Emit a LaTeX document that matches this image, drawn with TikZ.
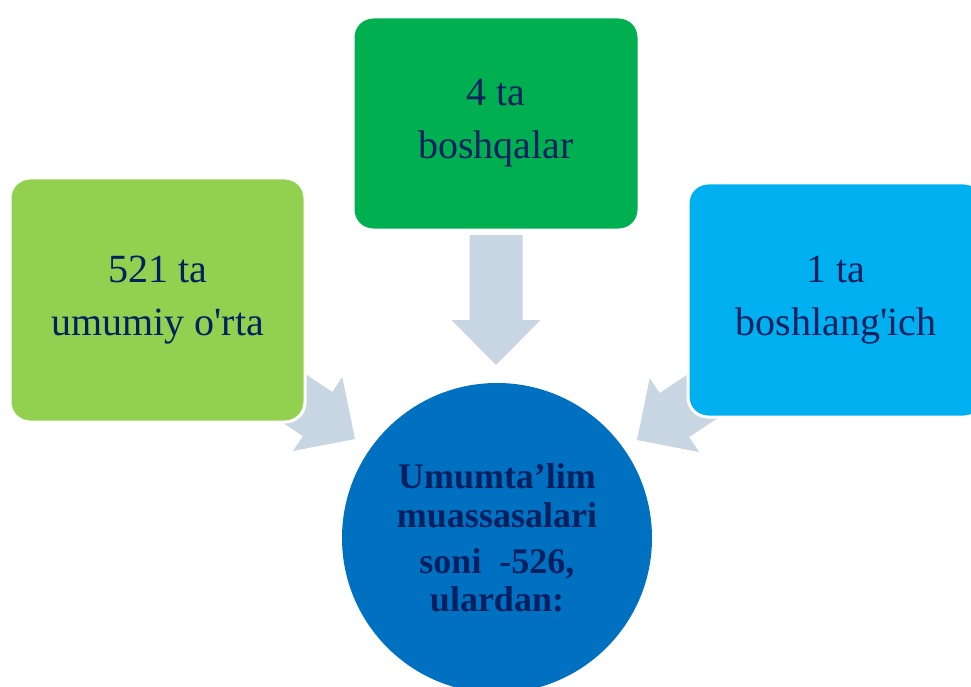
\documentclass[tikz,border=0pt]{standalone}
\usepackage{fontspec}
\setmainfont{Liberation Serif}
\newfontfamily\rawserif{Liberation Serif}
\definecolor{txtc}{HTML}{002060}
\definecolor{boxleft}{HTML}{92D050}
\definecolor{boxtop}{HTML}{00B050}
\definecolor{boxright}{HTML}{00B0F0}
\definecolor{circc}{HTML}{0070C0}
\definecolor{arrowc}{RGB}{200,214,228}
\newcommand{\sq}{{\rawserif'}}
\tikzset{
  blockarrow/.style={fill=arrowc, draw=none},
  catbox/.style={rectangle, rounded corners=20pt, draw=white, line width=3pt,
    inner sep=0pt, align=center, text=txtc,
    font=\fontsize{40}{53}\selectfont},
  hubcircle/.style={circle, fill=circc, draw=none, inner sep=0pt,
    minimum size=310pt, align=center, text=txtc,
    font=\fontsize{36}{38.5}\selectfont\bfseries}
}
\begin{document}
\begin{tikzpicture}[x=1pt,y=-1pt]
\useasboundingbox (0,0) rectangle (971,687);
% block arrows (behind boxes)
\fill[blockarrow, shift={(496,365)}]
  (0,0) -- (44.5,-45) -- (26.5,-45) -- (26.5,-130) -- (-26.5,-130) -- (-26.5,-45) -- (-44.5,-45) -- cycle;
\fill[blockarrow, shift={(355,439)}, rotate=56.3]
  (0,0) -- (44.5,-45) -- (26.5,-45) -- (26.5,-130) -- (-26.5,-130) -- (-26.5,-45) -- (-44.5,-45) -- cycle;
\fill[blockarrow, shift={(637,440)}, rotate=-56.3]
  (0,0) -- (44.5,-45) -- (26.5,-45) -- (26.5,-130) -- (-26.5,-130) -- (-26.5,-45) -- (-44.5,-45) -- cycle;
% boxes
\node[catbox, fill=boxleft, minimum width=295pt, minimum height=244pt] (left) at (157.5,300) {521 ta\\umumiy o\sq rta};
\node[catbox, fill=boxtop, minimum width=286pt, minimum height=213pt] (top) at (496,123.5) {4 ta\\boshqalar};
\node[catbox, fill=boxright, minimum width=296pt, minimum height=234pt] (right) at (836,300) {1 ta\\boshlang\sq ich};
% hub circle
\node[hubcircle] (hub) at (497,538) {Umumta’lim\\muassasalari\\[7.5pt]soni~~-526,\\ulardan:};
\end{tikzpicture}
\end{document}
